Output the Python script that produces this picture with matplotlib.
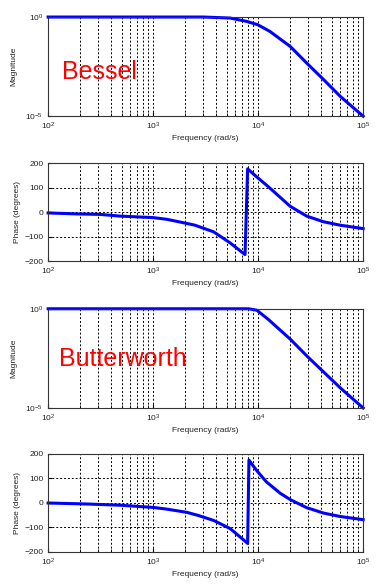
import matplotlib
matplotlib.use('Agg')
import matplotlib.pyplot as plt
from matplotlib.ticker import LogLocator, LogFormatterMathtext, NullFormatter, NullLocator

plt.rcParams['font.family'] = ['Liberation Sans', 'DejaVu Sans']
plt.rcParams['mathtext.fontset'] = 'custom'
plt.rcParams['mathtext.rm'] = 'Liberation Sans'

# Bessel: magnitude
bes_mag_w = [100, 3000, 5400, 7800, 9900, 12900, 20200, 30000, 41900, 60300, 100000]
bes_mag = [1.0, 1.0, 0.89, 0.60, 0.41, 0.19, 0.033, 0.004, 0.00071, 0.000102, 0.00001]

# Bessel: phase in degrees
bes_ph_w = [100, 188, 313, 485, 1000, 1350, 1800, 2500, 3760, 5400, 7500,
            7940, 9700, 12500, 20200, 29000, 41900, 60300, 100000]
bes_ph = [-3, -7, -9, -16, -22, -29, -40, -53, -80, -125, -173,
          177, 144, 104, 24, -16, -39, -53, -67]

# Butterworth: magnitude
but_mag_w = [100, 8100, 9700, 12500, 20200, 30000, 41900, 60300, 100000]
but_mag = [1.0, 1.0, 0.85, 0.29, 0.0295, 0.00355, 0.00066, 0.000105, 0.00001]

# Butterworth: phase in degrees
but_ph_w = [100, 233, 485, 1000, 1350, 2090, 2700, 3760, 5400, 7200, 7940,
            8170, 9700, 12000, 16200, 20200, 29000, 41900, 60300, 100000]
but_ph = [-1, -5, -10, -19, -26, -39, -52, -72, -105, -150, -166,
          174, 131, 85, 39, 13, -20, -42, -56, -69]

fig = plt.figure(figsize=(3.88, 5.87), dpi=100)

left = 0.124
width = 0.812
rects = [(left, 0.802, width, 0.169),
         (left, 0.555, width, 0.167),
         (left, 0.305, width, 0.169),
         (left, 0.060, width, 0.167)]

grid_style = dict(color='black', linestyle=(0, (2, 2)), linewidth=0.7)


def base_axes(rect):
    ax = fig.add_axes(rect)
    ax.set_xscale('log')
    ax.set_xlim(1e2, 1e5)
    ax.xaxis.set_major_locator(LogLocator(base=10))
    ax.xaxis.set_major_formatter(LogFormatterMathtext())
    ax.xaxis.set_minor_locator(LogLocator(base=10, subs=range(2, 10)))
    ax.xaxis.set_minor_formatter(NullFormatter())
    ax.tick_params(which='both', direction='in', labelsize=6, length=3,
                   labelcolor='#222222')
    ax.tick_params(which='minor', length=2)
    ax.grid(True, which='both', axis='x', **grid_style)
    for s in ax.spines.values():
        s.set_color('#333333')
        s.set_linewidth(0.8)
    ax.set_xlabel('Frequency (rad/s)', fontsize=6, labelpad=2, color='#222222')
    return ax


def mag_axes(rect, w, m, name, tx, ty):
    ax = base_axes(rect)
    ax.set_yscale('log')
    ax.set_ylim(1e-5, 1.0)
    ax.set_yticks([1e-5, 1.0])
    ax.yaxis.set_major_formatter(LogFormatterMathtext())
    ax.yaxis.set_minor_locator(NullLocator())
    ax.plot(w, m, color='#0000ff', linewidth=2.2, clip_on=False)
    ax.set_ylabel('Magnitude', fontsize=6, labelpad=6, color='#222222')
    ax.text(tx, ty, name, transform=ax.transAxes, color='red', fontsize=18,
            va='center', ha='left')
    return ax


def phase_axes(rect, w, p):
    ax = base_axes(rect)
    ax.set_ylim(-200, 200)
    ax.set_yticks([-200, -100, 0, 100, 200])
    ax.grid(True, which='major', axis='y', **grid_style)
    ax.plot(w, p, color='#0000ff', linewidth=2.2, clip_on=False)
    ax.set_ylabel('Phase (degrees)', fontsize=6, labelpad=2, color='#222222')
    return ax


mag_axes(rects[0], bes_mag_w, bes_mag, 'Bessel', 0.045, 0.45)
phase_axes(rects[1], bes_ph_w, bes_ph)
mag_axes(rects[2], but_mag_w, but_mag, 'Butterworth', 0.035, 0.49)
phase_axes(rects[3], but_ph_w, but_ph)

fig.savefig('out.png', dpi=100)
